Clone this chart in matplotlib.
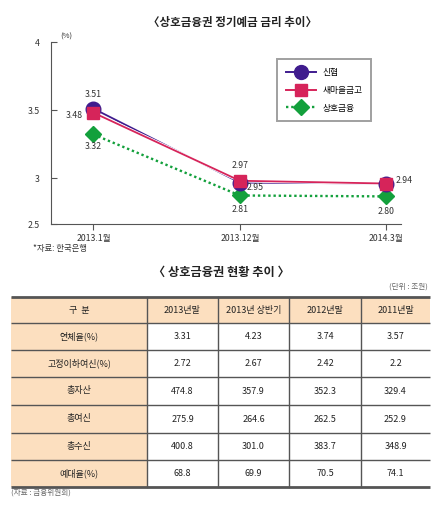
import numpy as np
import matplotlib
matplotlib.use('Agg')
import matplotlib.pyplot as plt
import matplotlib.patheffects as pe
from matplotlib.patches import Rectangle
from matplotlib.lines import Line2D

plt.rcParams['font.family'] = ['Noto Sans CJK KR', 'DejaVu Sans']

# chart data
periods = ['2013.1월', '2013.12월', '2014.3월']
shinhyup = [3.51, 2.95, 2.94]
saemaul = [3.48, 2.97, 2.94]
mutual = [3.32, 2.81, 2.80]

# table data
col_heads = ['구  분', '2013년말', '2013년 상반기', '2012년말', '2011년말']
row_heads = ['연체율(%)', '고정이하여신(%)', '총자산', '총여신', '총수신', '예대율(%)']
cells = [
    ['3.31', '4.23', '3.74', '3.57'],
    ['2.72', '2.67', '2.42', '2.2'],
    ['474.8', '357.9', '352.3', '329.4'],
    ['275.9', '264.6', '262.5', '252.9'],
    ['400.8', '301.0', '383.7', '348.9'],
    ['68.8', '69.9', '70.5', '74.1'],
]

PURPLE = '#3F1C8E'
RED = '#D6245A'
GREEN = '#13A03C'

W, H = 440, 505
fig = plt.figure(figsize=(W / 100, H / 100), dpi=100, facecolor='white')

# background axes in pixel coordinates for text and table
bg = fig.add_axes([0, 0, 1, 1])
bg.set_xlim(0, W)
bg.set_ylim(H, 0)
bg.axis('off')

ax = fig.add_axes([51 / W, 1 - 224 / H, 350 / W, 182 / H])
ax.patch.set_alpha(0)


# axis is squeezed below 3 like in the original graphic
def fwd(y):
    y = np.asarray(y, dtype=float)
    return np.where(y >= 3, y, 3 - (3 - y) * 46 / 68)


def inv(y):
    y = np.asarray(y, dtype=float)
    return np.where(y >= 3, y, 3 - (3 - y) * 68 / 46)


ax.set_yscale('function', functions=(fwd, inv))
ax.set_ylim(2.5, 4.0)
ax.set_xlim(-0.29, 2.1)

x = np.arange(len(periods))
stroke = [pe.Stroke(linewidth=2.4, foreground='white'), pe.Normal()]

# lines first
ax.plot(x, mutual, color=GREEN, lw=1.7, ls=(0, (1, 1.2)), zorder=2)
ax.plot(x, shinhyup, color=PURPLE, lw=1.3, zorder=3, path_effects=stroke)
ax.plot(x, saemaul, color=RED, lw=1.3, zorder=4, path_effects=stroke)
# markers, squares over circles
ax.plot(x, mutual, ls='none', marker='D', markersize=8.5, color=GREEN, zorder=5)
ax.plot(x, shinhyup, ls='none', marker='o', markersize=10.5, color=PURPLE, zorder=6)
ax.plot(x, saemaul, ls='none', marker='s', markersize=8, color=RED, zorder=7)

lab = dict(fontsize=6.3, color='#333333', textcoords='offset points', zorder=10)
ax.annotate('3.51', (0, shinhyup[0]), xytext=(0, 10), ha='center', va='center', **lab)
ax.annotate('3.48', (0, saemaul[0]), xytext=(-8, -2), ha='right', va='center', **lab)
ax.annotate('3.32', (0, mutual[0]), xytext=(0, -9), ha='center', va='center', **lab)
ax.annotate('2.97', (1, saemaul[1]), xytext=(0, 11), ha='center', va='center', **lab)
ax.annotate('2.95', (1, shinhyup[1]), xytext=(5, -3.5), ha='left', va='center', **lab)
ax.annotate('2.81', (1, mutual[1]), xytext=(0, -10), ha='center', va='center', **lab)
ax.annotate('2.94', (2, shinhyup[2]), xytext=(7, 2), ha='left', va='center', **lab)
ax.annotate('2.80', (2, mutual[2]), xytext=(0, -11), ha='center', va='center', **lab)

for s in ['top', 'right']:
    ax.spines[s].set_visible(False)
for s in ['left', 'bottom']:
    ax.spines[s].set_color('#555555')
    ax.spines[s].set_linewidth(0.8)

ax.set_yticks([2.5, 3, 3.5, 4])
ax.set_yticklabels(['2.5', '3', '3.5', '4'])
ax.tick_params(axis='y', direction='in', length=4, width=0.8, colors='#555555',
               labelsize=6.3, labelcolor='#333333', pad=8)
ax.set_xticks(x)
ax.set_xticklabels(periods)
ax.tick_params(axis='x', direction='out', length=4, width=0.8, colors='#555555',
               labelsize=6.3, labelcolor='#333333', pad=3)

ax.text(0.025, 1.01, '(%)', transform=ax.transAxes, fontsize=5.5, color='#333333',
        va='bottom')

handles = [
    Line2D([], [], color=PURPLE, lw=1.4, marker='o', markersize=10),
    Line2D([], [], color=RED, lw=1.4, marker='s', markersize=8),
    Line2D([], [], color=GREEN, lw=1.7, ls=(0, (1, 1.2)), marker='D', markersize=8.5),
]
leg = ax.legend(handles, ['신협', '새마을금고', '상호금융'],
                loc='upper left', bbox_to_anchor=(0.646, 0.905), fontsize=6.3,
                frameon=True, fancybox=False, edgecolor='#888888',
                handlelength=3.4, borderpad=1.0, labelspacing=1.0,
                borderaxespad=0, handletextpad=0.8)
leg.get_frame().set_linewidth(1.4)

# titles and notes
bg.text(232, 22, '〈상호금융권 정기예금 금리 추이〉', ha='center', va='center',
        fontsize=8.3, fontweight='bold', color='#222222')
bg.text(33, 248, '*자료: 한국은행', ha='left', va='center', fontsize=6, color='#333333')
bg.text(221, 272, '〈 상호금융권 현황 추이 〉', ha='center', va='center',
        fontsize=8.8, fontweight='bold', color='#222222')
bg.text(428, 287, '(단위 : 조원)', ha='right', va='center', fontsize=5.5, color='#666666')
bg.text(11, 493, '(자료 : 금융위원회)', ha='left', va='center', fontsize=5.5, color='#666666')

# table
col_x = [11, 147, 218, 289, 361, 430]
row_y = [297, 323, 350, 377, 405, 433, 460, 487]
peach = '#FCDFBF'

bg.add_patch(Rectangle((col_x[0], row_y[0]), col_x[-1] - col_x[0], row_y[1] - row_y[0],
                       facecolor=peach, edgecolor='none'))
bg.add_patch(Rectangle((col_x[0], row_y[1]), col_x[1] - col_x[0], row_y[-1] - row_y[1],
                       facecolor=peach, edgecolor='none'))

for i, y in enumerate(row_y):
    lw = 2.0 if i in (0, len(row_y) - 1) else 1.0
    bg.plot([col_x[0], col_x[-1]], [y, y], color='#555555', lw=lw,
            solid_capstyle='butt')
for cx in col_x[1:-1]:
    bg.plot([cx, cx], [row_y[0], row_y[-1]], color='#555555', lw=1.0)

for j, h in enumerate(col_heads):
    bg.text((col_x[j] + col_x[j + 1]) / 2, (row_y[0] + row_y[1]) / 2, h,
            ha='center', va='center', fontsize=6.5, color='#222222')
for i, rh in enumerate(row_heads):
    yc = (row_y[i + 1] + row_y[i + 2]) / 2
    bg.text((col_x[0] + col_x[1]) / 2, yc, rh, ha='center', va='center',
            fontsize=6.5, color='#222222')
    for j, v in enumerate(cells[i]):
        bg.text((col_x[j + 1] + col_x[j + 2]) / 2, yc, v, ha='center', va='center',
                fontsize=6.5, color='#222222')

fig.savefig('out.png', dpi=100, facecolor='white')
